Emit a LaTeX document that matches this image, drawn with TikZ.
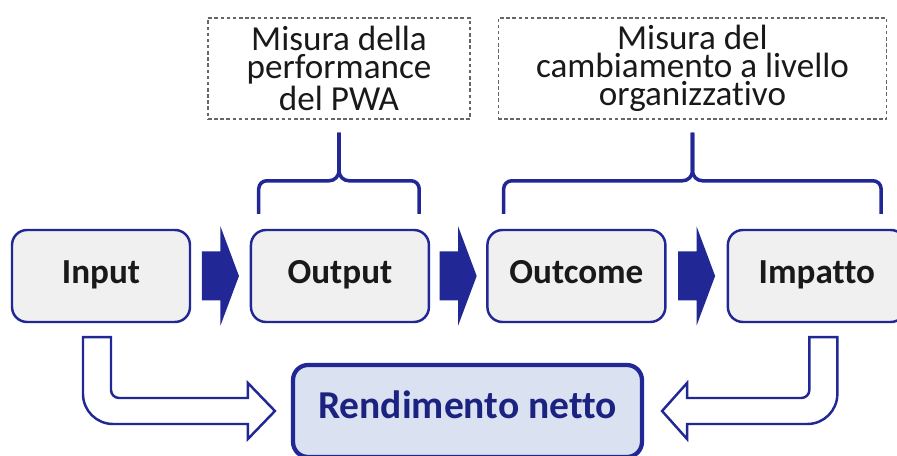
\documentclass[tikz,border=0pt]{standalone}
\usepackage{fontspec}
\setmainfont{Carlito}[Ligatures=NoCommon]
\usepackage{tikz}
\usetikzlibrary{positioning,calc}
\definecolor{myblue}{RGB}{33,40,150}
\definecolor{mylightblue}{RGB}{218,226,242}
\definecolor{mygrey}{RGB}{240,240,240}
\definecolor{mytext}{RGB}{25,25,25}
\tikzstyle{mynode}=[align=center, rounded corners=0.3cm, minimum height=1.84cm, inner sep=0pt, text height=0.9em, text depth=0em]
\tikzstyle{stage}=[mynode, rectangle, draw=myblue, line width=1.4pt, fill=mygrey, minimum width=3.56cm, text=mytext, font=\fontsize{20}{24}\selectfont\bfseries]
\tikzstyle{result}=[mynode, rectangle, draw=myblue, line width=2.4pt, fill=mylightblue, minimum width=6.98cm, text=myblue!85!black, font=\fontsize{22.5}{27}\selectfont\bfseries]
\tikzstyle{note}=[rectangle, draw=black!60, dash pattern=on 2pt off 1.5pt, line width=0.6pt, minimum height=2.02cm, inner sep=0pt, align=center, text=mytext, font=\fontsize{20}{16}\selectfont]
\tikzstyle{fat arrow}=[fill=myblue]
\tikzstyle{hollow arrow}=[draw=myblue, line width=1.4pt, fill=white]
\tikzstyle{brace}=[draw=myblue, line width=2pt]

\begin{document}
\begin{tikzpicture}[
    x=0.02cm, y=0.02cm,
    node distance=4.76cm,
    on grid]
\path[use as bounding box, clip] (0,0) rectangle (897,456);

% Stages
\node[] (in) [stage] at (101,180) {Input};
\node[] (out) [stage, right=4.78cm of in] {Output};
\node[] (outc) [stage, right=4.73cm of out] {Outcome};
\node[] (imp) [stage, right=4.81cm of outc] {Impatto};

% Result
\node[] (rend) [result] at (467.5,45) {Rendimento netto};

% Notes
\node[note, minimum width=5.24cm] (perf) at (339,387.5) {Misura della\\performance\\del PWA};
\node[note, minimum width=7.78cm] (camb) at (692.5,387.5) {Misura del\\cambiamento a livello\\organizzativo};

% stage to stage
\foreach \a/\b in {in/out, out/outc, outc/imp} {
    \coordinate (m) at ($(\a.east)!0.5!(\b.west)$);
    \fill[fat arrow] ($(m)+(-18.5,24.5)$) -- ($(m)+(0,24.5)$) -- ($(m)+(0,49.5)$)
        -- ($(m)+(18.5,0)$) -- ($(m)+(0,-49.5)$) -- ($(m)+(0,-24.5)$)
        -- ($(m)+(-18.5,-24.5)$) -- cycle;
}

% braces
\coordinate (b1l) at ($(out.north west)+(9,15)$);
\coordinate (b1r) at ($(out.north east)+(-11,15)$);
\coordinate (b1t) at ($(perf.south)+(0,-13)$);
\coordinate (b2l) at ($(outc.north west)+(17.5,15)$);
\coordinate (b2r) at ($(imp.north east)+(-26,15)$);
\coordinate (b2t) at ($(camb.south)+(0,-13)$);
\foreach \l/\r/\t in {b1l/b1r/b1t, b2l/b2r/b2t} {
    \draw[brace] (\l) -- ++(0,25) arc[start angle=180, end angle=90, radius=8]
        -- ($(\t |- \l)+(-10,33)$) arc[start angle=270, end angle=360, radius=10] -- (\t);
    \draw[brace] (\r) -- ++(0,25) arc[start angle=0, end angle=90, radius=8]
        -- ($(\t |- \l)+(10,33)$) arc[start angle=270, end angle=180, radius=10] -- (\t);
}

% stages to result
\coordinate (s1) at ($(in.south)+(-4,-14)$);
\coordinate (t1) at ($(rend.west)+(-16,0)$);
\coordinate (c1) at (s1 |- t1);
\draw[hollow arrow] ($(s1)+(-14,0)$) -- ($(s1)+(14,0)$) -- ($(c1)+(14,21)$)
    arc[start angle=180, end angle=270, radius=8] -- ($(t1)+(-27,13)$)
    -- ($(t1)+(-27,28)$) -- (t1) -- ($(t1)+(-27,-28)$) -- ($(t1)+(-27,-13)$)
    -- ($(c1)+(16,-13)$) arc[start angle=270, end angle=180, radius=30] -- cycle;

\coordinate (s2) at ($(imp.south)+(6.5,-14)$);
\coordinate (t2) at ($(rend.east)+(18,0)$);
\coordinate (c2) at (s2 |- t2);
\draw[hollow arrow] ($(s2)+(14,0)$) -- ($(s2)+(-14,0)$) -- ($(c2)+(-14,21)$)
    arc[start angle=0, end angle=-90, radius=8] -- ($(t2)+(25,13)$)
    -- ($(t2)+(25,28)$) -- (t2) -- ($(t2)+(25,-28)$) -- ($(t2)+(25,-13)$)
    -- ($(c2)+(-16,-13)$) arc[start angle=270, end angle=360, radius=30] -- cycle;

\end{tikzpicture}
\end{document}
